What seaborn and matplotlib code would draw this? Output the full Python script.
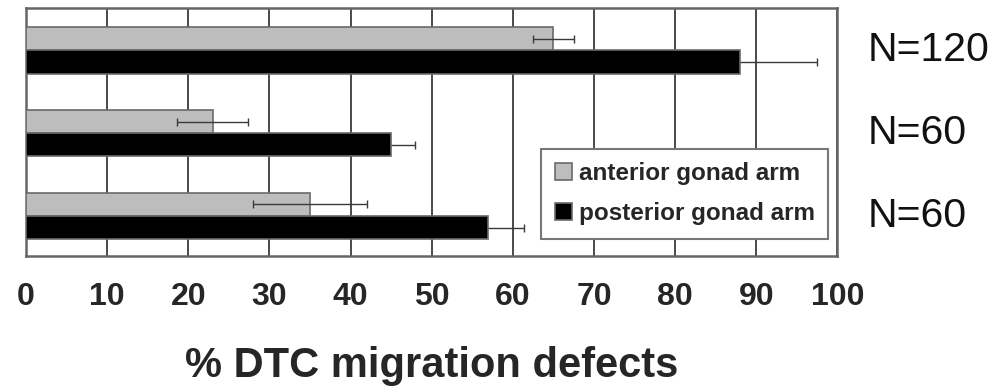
import pandas as pd
import matplotlib
matplotlib.use("Agg")
import matplotlib.pyplot as plt
import seaborn as sns
import numpy as np

# ---- data ----
groups = ["g1", "g2", "g3"]
n_labels = ["N=120", "N=60", "N=60"]
anterior = [65, 23, 35]
anterior_err = [2.5, 4.4, 7.0]
posterior = [88, 45, 57]
posterior_err = [9.5, 3.0, 4.4]
arm_names = ["anterior gonad arm", "posterior gonad arm"]
x_ticks = [0, 10, 20, 30, 40, 50, 60, 70, 80, 90, 100]

sns.set_theme(style="white")
plt.rcParams['font.family'] = ['Liberation Sans', 'DejaVu Sans']

df = pd.DataFrame({
    "group": groups * 2,
    "arm": [arm_names[0]] * 3 + [arm_names[1]] * 3,
    "value": anterior + posterior,
    "err": anterior_err + posterior_err,
})

fig = plt.figure(figsize=(10.01, 3.87), dpi=100)
ax = fig.add_axes([0.026, 0.339, 0.8105, 0.640])

sns.barplot(data=df, x="value", y="group", hue="arm", orient="h",
            palette=["#bdbdbd", "#000000"], width=0.56, errorbar=None,
            edgecolor="#6a6a6a", linewidth=1.2, ax=ax, zorder=3)

# error bars, placed on the seaborn bar centres
# (posterior ones sit behind the black bars, like in the original)
for cont, arm, z in zip(ax.containers, arm_names, [4, 2]):
    sub = df[df["arm"] == arm]
    ys = [p.get_y() + p.get_height() / 2 for p in cont.patches]
    ax.errorbar(sub["value"].values, ys, xerr=sub["err"].values, fmt="none",
                ecolor="#3a3a3a", elinewidth=1.0, capsize=3, capthick=1.0, zorder=z)

ax.set_xlim(0, 100)
ax.set_ylim(2.48, -0.51)
ax.set_xticks(x_ticks)
ax.set_xticklabels([str(t) for t in x_ticks], fontsize=23, fontweight="bold")
ax.set_yticks([])
ax.set_ylabel("")
ax.tick_params(axis="x", length=0, pad=19)
ax.grid(axis="x", color="#4a4a4a", linewidth=1.4, zorder=0)
ax.set_axisbelow(True)
for s in ax.spines.values():
    s.set_color("#666666")
    s.set_linewidth(1.8)

ax.set_xlabel("% DTC migration defects", fontsize=30, fontweight="bold", labelpad=24)

# N labels on the right, in data y
for i, lab in enumerate(n_labels):
    ax.text(1.037, i, lab, transform=ax.get_yaxis_transform(), fontsize=29.5,
            va="center", ha="left", color="#111111")

leg = ax.legend(loc="lower right", bbox_to_anchor=(0.989, 0.069), frameon=True,
                fancybox=False, framealpha=1, edgecolor="#777777",
                prop={"weight": "bold", "size": 17.5}, handlelength=0.7,
                handleheight=0.7, handletextpad=0.3, labelspacing=0.7,
                borderpad=0.55, borderaxespad=0)
leg.get_frame().set_linewidth(1.5)
leg.set_title(None)

fig.savefig("out.png", dpi=100)
